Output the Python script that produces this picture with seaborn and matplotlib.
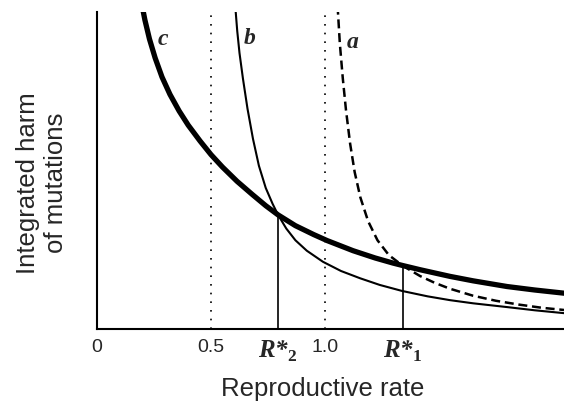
import numpy as np
import pandas as pd
import matplotlib
matplotlib.use("Agg")
import matplotlib.pyplot as plt
import matplotlib.transforms as mtransforms
import seaborn as sns

# curves (reproductive rate vs. integrated harm, arbitrary units)
c_rate = [0.195, 0.210, 0.230, 0.255, 0.285, 0.320, 0.360, 0.400, 0.452, 0.500,
          0.550, 0.614, 0.680, 0.740, 0.794, 0.870, 0.950, 1.009, 1.123, 1.220,
          1.298, 1.342, 1.417, 1.548, 1.649, 1.798, 1.920, 2.048]
c_harm = [10.3, 9.75, 9.15, 8.55, 7.95, 7.40, 6.88, 6.43, 5.93, 5.50,
          5.11, 4.66, 4.25, 3.89, 3.60, 3.26, 2.98, 2.79, 2.47, 2.24,
          2.08, 2.00, 1.87, 1.66, 1.52, 1.34, 1.23, 1.13]

b_rate = [0.605, 0.615, 0.625, 0.640, 0.660, 0.684, 0.710, 0.740, 0.770, 0.794,
          0.830, 0.870, 0.920, 0.991, 1.070, 1.154, 1.240, 1.338, 1.450, 1.548,
          1.650, 1.800, 1.920, 2.048]
b_harm = [10.3, 9.4, 8.7, 7.9, 6.95, 6.0, 5.15, 4.45, 3.95, 3.60,
          3.17, 2.80, 2.47, 2.12, 1.83, 1.60, 1.39, 1.20, 1.03, 0.91,
          0.81, 0.69, 0.59, 0.50]

a_rate = [1.055, 1.065, 1.078, 1.092, 1.110, 1.130, 1.155, 1.189, 1.230, 1.280,
          1.342, 1.417, 1.480, 1.548, 1.649, 1.750, 1.850, 1.950, 2.048]
a_harm = [10.2, 9.0, 7.9, 6.9, 5.85, 4.95, 4.15, 3.40, 2.80, 2.33,
          1.99, 1.67, 1.46, 1.27, 1.05, 0.89, 0.77, 0.67, 0.60]

# equilibrium rates (R*2, R*1) and where they meet the curves
r_star = [0.794, 1.342]
r_star_harm = [3.60, 2.00]
guide_rates = [0.5, 1.0]

tick_pos = [0, 0.5, 0.794, 1.0, 1.342]
tick_labels = ["0", "0.5", r"$\mathbfit{R{*}}_{\mathbf{2}}$", "1.0",
               r"$\mathbfit{R{*}}_{\mathbf{1}}$"]

curve_names = ["c", "b", "a"]
name_pos_x = [0.29, 0.671, 1.123]
name_pos_y = [9.12, 9.15, 9.05]

sns.set_style("white")
plt.rcParams["font.family"] = ["Liberation Sans", "DejaVu Sans"]
plt.rcParams["mathtext.fontset"] = "custom"
plt.rcParams["mathtext.bfit"] = "Liberation Serif:italic:bold"
plt.rcParams["mathtext.bf"] = "Liberation Serif:bold"
plt.rcParams["mathtext.rm"] = "Liberation Serif"

fig = plt.figure(figsize=(5.64, 4.08), dpi=100)
ax = fig.add_axes([97 / 564, 79 / 408, 467 / 564, 317 / 408])

df_c = pd.DataFrame({"rate": c_rate, "harm": c_harm})
df_b = pd.DataFrame({"rate": b_rate, "harm": b_harm})
df_a = pd.DataFrame({"rate": a_rate, "harm": a_harm})

sns.lineplot(data=df_c, x="rate", y="harm", ax=ax, color="black", lw=3.8, estimator=None)
sns.lineplot(data=df_b, x="rate", y="harm", ax=ax, color="black", lw=1.5, estimator=None)
sns.lineplot(data=df_a, x="rate", y="harm", ax=ax, color="black", lw=1.8, estimator=None)
ax.lines[-1].set_dashes((3.6, 1.9))
for ln in ax.lines:
    ln.set_solid_joinstyle("round")
    ln.set_dash_joinstyle("round")

for xr in guide_rates:
    ax.axvline(xr, color="black", lw=1.2, dashes=(1, 4.2))

ax.vlines(r_star, 0, r_star_harm, color="black", lw=1.2)

for name, xx, yy in zip(curve_names, name_pos_x, name_pos_y):
    ax.text(xx, yy, name, family="Liberation Serif", style="italic", weight="bold",
            fontsize=17, ha="center", va="center")

ax.set_xlim(0, 2.048)
ax.set_ylim(0, 10)
ax.set_xticks(tick_pos)
ax.set_xticklabels(tick_labels)
labels = ax.get_xticklabels()
for lab in labels:
    lab.set_fontsize(14)
for lab in labels[2::2]:
    lab.set_fontsize(18)
# the plain number labels sit a little left of their guide lines in the original
for lab, dx in zip(labels, [0, -6, 0, -5, 0]):
    lab.set_transform(lab.get_transform() +
                      mtransforms.ScaledTranslation(dx / 100, 0, fig.dpi_scale_trans))
ax.set_yticks([])
ax.tick_params(axis="x", length=0, pad=7)

for side in ["top", "right"]:
    ax.spines[side].set_visible(False)
for side in ["left", "bottom"]:
    ax.spines[side].set_color("black")
    ax.spines[side].set_linewidth(1.5)

ax.set_xlabel("Reproductive rate", fontsize=18.5)
ax.xaxis.set_label_coords(0.484, -0.15)
ax.set_ylabel("Integrated harm\nof mutations", fontsize=18.5, multialignment="center")
ax.yaxis.set_label_coords(-0.062, 0.46)

fig.savefig("out.png", dpi=100)
